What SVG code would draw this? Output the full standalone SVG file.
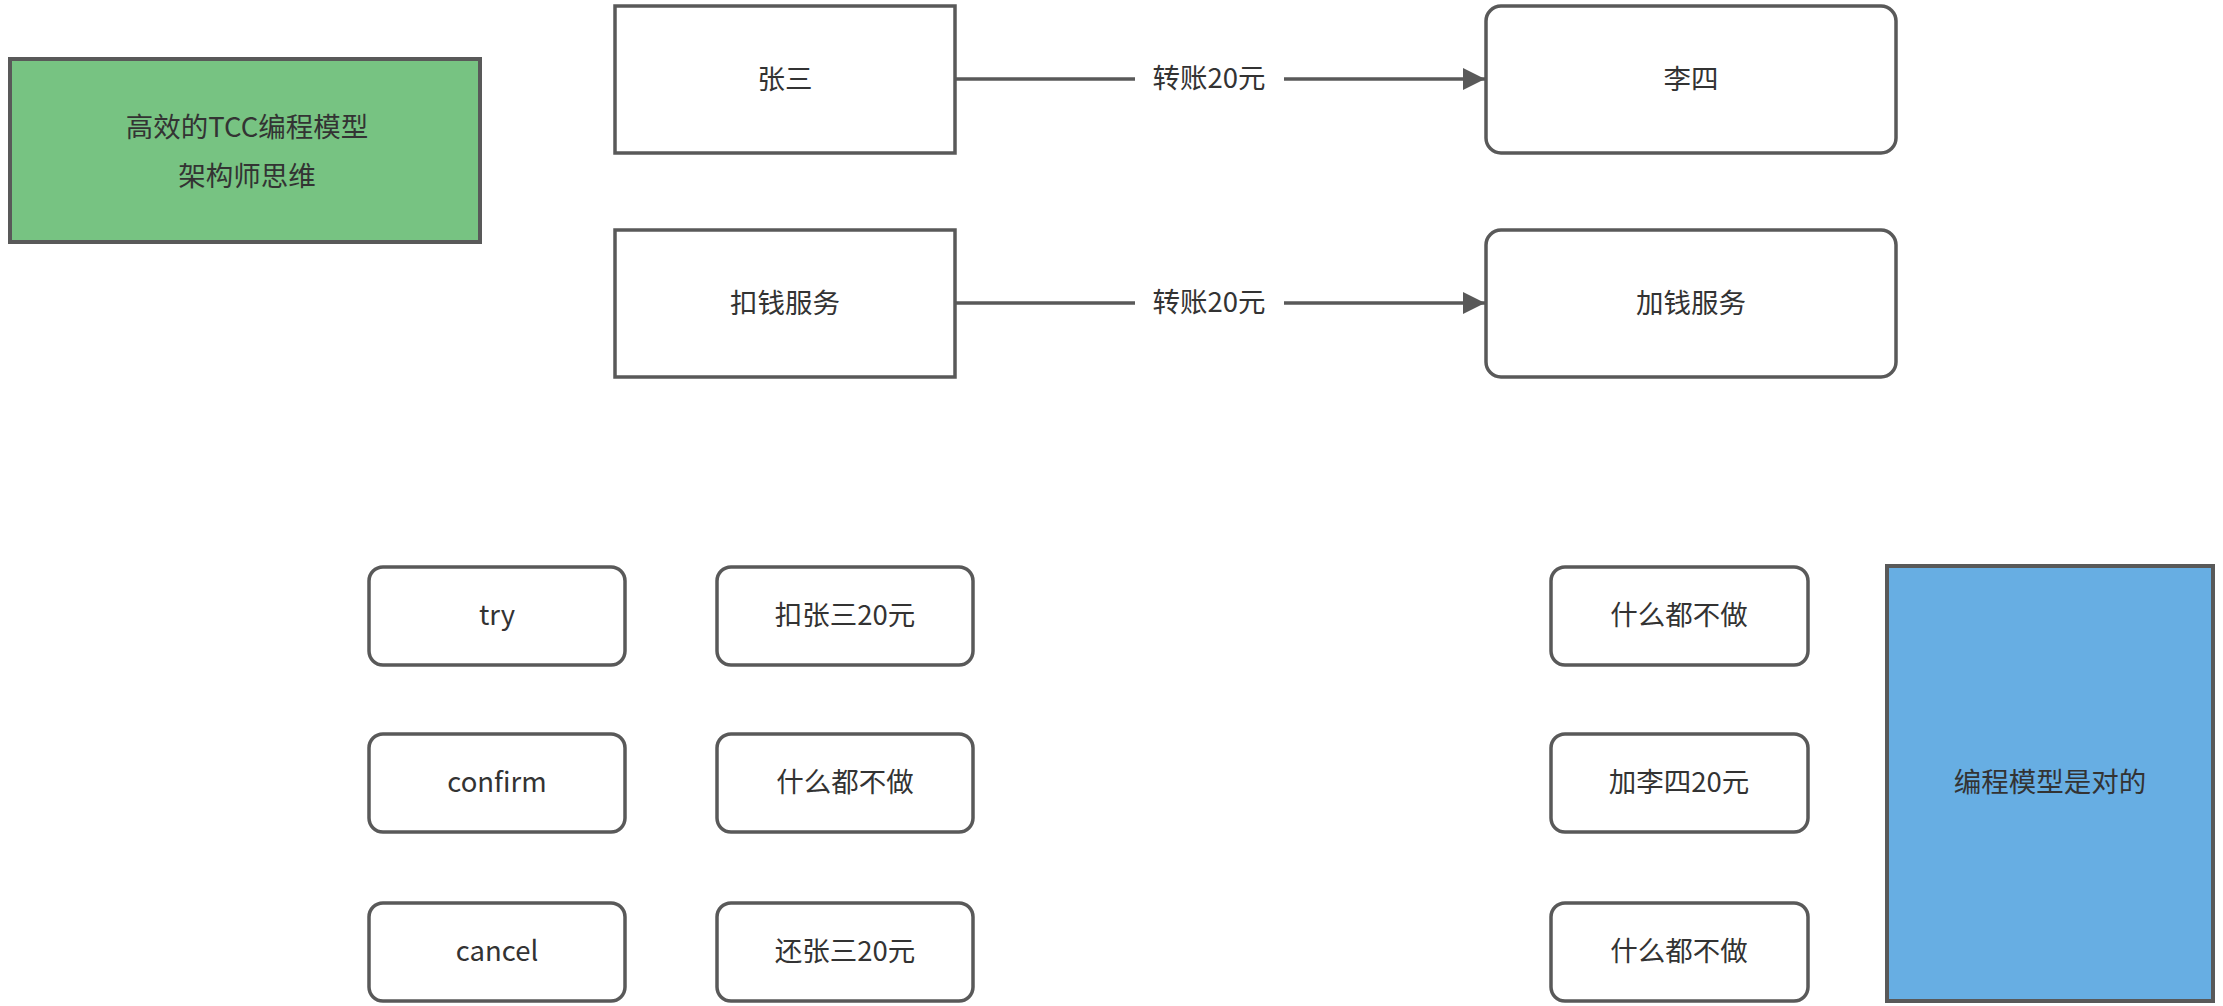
<svg xmlns="http://www.w3.org/2000/svg" width="2223" height="1006" viewBox="0 0 2223 1006">
<style>
.box{fill:#ffffff;stroke:#595959;stroke-width:3.5}
.t{font-family:"Noto Sans CJK SC","Noto Sans",sans-serif;font-size:27.5px;fill:#333333;text-anchor:middle;dominant-baseline:central}
.edge{fill:none;stroke:#595959;stroke-width:3.5}
</style>
<defs>
<marker id="arr" markerWidth="24" markerHeight="22" refX="22" refY="11" orient="auto" markerUnits="userSpaceOnUse">
<path d="M0,0 L22,11 L0,22 Z" fill="#595959"/>
</marker>
</defs>
<rect width="2223" height="1006" fill="#ffffff"/>
<g id="title">
<rect x="10" y="59" width="470" height="183" fill="#77c382" stroke="#595959" stroke-width="4"/>
<text class="t" x="247" y="125" fill="#2b3b2b">高效的TCC编程模型</text>
<text class="t" x="247" y="174" fill="#2b3b2b">架构师思维</text>
</g>
<g id="zhangsan">
<rect class="box" x="615" y="6" width="340" height="147"/>
<text class="t" x="785" y="77">张三</text>
</g>
<g id="lisi">
<rect class="box" x="1486" y="6" width="410" height="147" rx="15"/>
<text class="t" x="1691" y="77">李四</text>
</g>
<g id="koqian">
<rect class="box" x="615" y="230" width="340" height="147"/>
<text class="t" x="785" y="301">扣钱服务</text>
</g>
<g id="jiaqian">
<rect class="box" x="1486" y="230" width="410" height="147" rx="15"/>
<text class="t" x="1691" y="301">加钱服务</text>
</g>
<g id="connectors">
<path class="edge" d="M955,79 L1485,79" marker-end="url(#arr)"/>
<rect x="1135" y="62" width="149" height="34" fill="#ffffff"/>
<text class="t" x="1209" y="76">转账20元</text>
<path class="edge" d="M955,303 L1485,303" marker-end="url(#arr)"/>
<rect x="1135" y="286" width="149" height="34" fill="#ffffff"/>
<text class="t" x="1209" y="300">转账20元</text>
</g>
<g id="try">
<rect class="box" x="369" y="567" width="256" height="98" rx="14"/>
<text class="t" x="497" y="613">try</text>
</g>
<g id="confirm">
<rect class="box" x="369" y="734" width="256" height="98" rx="14"/>
<text class="t" x="497" y="780">confirm</text>
</g>
<g id="cancel">
<rect class="box" x="369" y="903" width="256" height="98" rx="14"/>
<text class="t" x="497" y="949">cancel</text>
</g>
<g id="kou-zhangsan">
<rect class="box" x="717" y="567" width="256" height="98" rx="14"/>
<text class="t" x="845" y="613">扣张三20元</text>
</g>
<g id="nothing-1">
<rect class="box" x="717" y="734" width="256" height="98" rx="14"/>
<text class="t" x="845" y="780">什么都不做</text>
</g>
<g id="huan-zhangsan">
<rect class="box" x="717" y="903" width="256" height="98" rx="14"/>
<text class="t" x="845" y="949">还张三20元</text>
</g>
<g id="nothing-2">
<rect class="box" x="1551" y="567" width="257" height="98" rx="14"/>
<text class="t" x="1679" y="613">什么都不做</text>
</g>
<g id="jia-lisi">
<rect class="box" x="1551" y="734" width="257" height="98" rx="14"/>
<text class="t" x="1679" y="780">加李四20元</text>
</g>
<g id="nothing-3">
<rect class="box" x="1551" y="903" width="257" height="98" rx="14"/>
<text class="t" x="1679" y="949">什么都不做</text>
</g>
<g id="model-right">
<rect x="1887" y="566" width="326" height="435" fill="#67aee3" stroke="#595959" stroke-width="4"/>
<text class="t" x="2050" y="780">编程模型是对的</text>
</g>
</svg>
